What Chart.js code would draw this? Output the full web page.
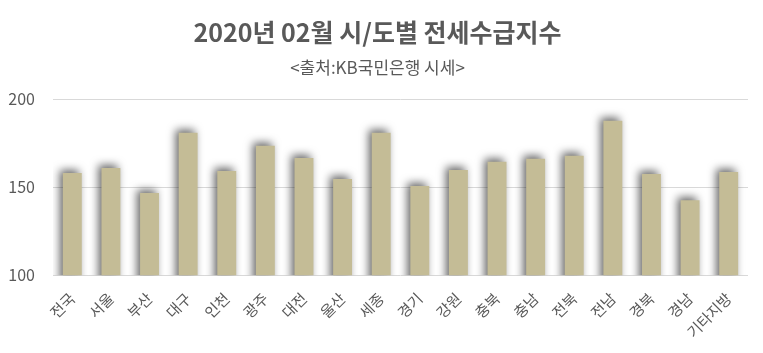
<!DOCTYPE html>
<html>
<head>
<meta charset="utf-8">
<script src="https://cdn.jsdelivr.net/npm/chart.js@4"></script>
<style>
  html, body { margin: 0; padding: 0; background: #fff; }
  #wrap { width: 763px; height: 353px; }
</style>
</head>
<body>
<div id="wrap"><canvas id="chart"></canvas></div>
<script>
// categories (시/도)
const regions = ['전국', '서울', '부산', '대구', '인천', '광주', '대전', '울산', '세종',
  '경기', '강원', '충북', '충남', '전북', '전남', '경북', '경남', '기타지방'];
// 전세수급지수
const supplyIndex = [158.2, 161.0, 146.7, 181.0, 159.3, 173.6, 166.7, 154.7, 181.0,
  150.7, 159.9, 164.5, 166.2, 167.9, 187.9, 157.6, 142.7, 158.7];
const yTicks = [100, 150, 200];

const FONT = "'Noto Sans CJK KR', 'Noto Sans', sans-serif";
const GRAY = '#595959';

// soft drop shadow behind the bars
const barShadow = {
  id: 'barShadow',
  beforeDatasetsDraw(chart) {
    const ctx = chart.ctx;
    ctx.save();
    ctx.shadowColor = 'rgba(0, 0, 0, 0.6)';
    ctx.shadowBlur = 8;
    ctx.shadowOffsetX = -3;
    ctx.shadowOffsetY = -3;
  },
  afterDatasetsDraw(chart) {
    chart.ctx.restore();
  }
};

new Chart(document.getElementById('chart'), {
  type: 'bar',
  data: {
    labels: regions,
    datasets: [{
      label: '전세수급지수',
      data: supplyIndex,
      backgroundColor: '#C4BC96',
      categoryPercentage: 1.0,
      barPercentage: 0.49
    }]
  },
  options: {
    responsive: true,
    maintainAspectRatio: false,
    animation: false,
    layout: { padding: { left: 7, right: 15, top: 0, bottom: 6 } },
    plugins: {
      legend: { display: false },
      tooltip: { enabled: false },
      title: {
        display: true,
        text: '2020년 02월 시/도별 전세수급지수',
        color: GRAY,
        font: { family: FONT, size: 25, weight: 'bold' },
        padding: { top: 17, bottom: 6 }
      },
      subtitle: {
        display: true,
        text: '<출처:KB국민은행 시세>',
        color: GRAY,
        font: { family: FONT, size: 17 },
        padding: { top: 4, bottom: 22 }
      }
    },
    scales: {
      x: {
        grid: { display: false },
        border: { display: false },
        afterFit(scale) {
          scale.paddingLeft = 0;
          scale.paddingRight = 0;
        },
        ticks: {
          color: GRAY,
          font: { family: FONT, size: 15 },
          maxRotation: 45,
          minRotation: 45,
          autoSkip: false,
          padding: 6
        }
      },
      y: {
        min: 100,
        max: 200,
        afterBuildTicks(axis) {
          axis.ticks = yTicks.map(v => ({ value: v }));
        },
        afterFit(scale) {
          scale.width = 46;
        },
        grid: { color: '#d9d9d9', drawTicks: false },
        border: { display: false },
        ticks: {
          color: GRAY,
          font: { family: FONT, size: 16 },
          padding: 18
        }
      }
    }
  },
  plugins: [barShadow]
});
</script>
</body>
</html>
